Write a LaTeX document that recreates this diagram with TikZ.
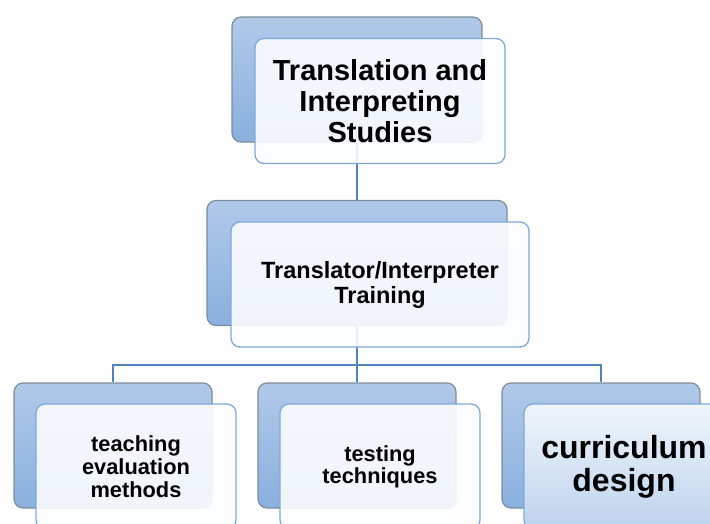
\documentclass[tikz,border=0pt]{standalone}
\usepackage{fontspec}
\setmainfont{Liberation Sans}
\definecolor{backline}{RGB}{125,140,155}
\definecolor{backtop}{RGB}{176,201,232}
\definecolor{backbottom}{RGB}{137,176,223}
\definecolor{frontline}{RGB}{125,170,220}
\definecolor{frontfill}{RGB}{252,253,255}
\definecolor{linkblue}{RGB}{80,130,190}
\definecolor{glosstop}{RGB}{240,245,251}
\definecolor{glossbottom}{RGB}{188,211,237}
\begin{document}
\begin{tikzpicture}[x=1pt,y=-1pt,
    back/.style={draw=backline, line width=1.2pt, rounded corners=9pt,
      top color=backtop, bottom color=backbottom, minimum height=125pt},
    front/.style={draw=frontline, line width=1.3pt, rounded corners=9pt,
      fill=frontfill, fill opacity=0.9, text opacity=1, minimum height=125pt,
      align=center, inner sep=0pt},
    glossy/.style={front, top color=glosstop, bottom color=glossbottom, fill opacity=1},
    link/.style={draw=linkblue, line width=2pt}]
  \useasboundingbox (0,0) rectangle (710,523);
  \clip (0,0) rectangle (710,523);
  \draw
    (357,79.5) node[back, minimum width=250pt] (tisback) {}
    (357,263) node[back, minimum width=300pt] (ittback) {}
    (113,445.5) node[back, minimum width=198pt] (teachback) {}
    (357,445.5) node[back, minimum width=198pt] (testback) {}
    (601,445.5) node[back, minimum width=198pt] (currback) {};
  \coordinate (bus) at (357,365);
  \begin{scope}[link]
    \draw (tisback) to (ittback);
    \draw (ittback.south) -- (bus) -| (teachback.north);
    \draw (bus) -| (testback.north);
    \draw (bus) -| (currback.north);
  \end{scope}
  \draw
    (380,101) node[front, minimum width=250pt,
      font=\bfseries\fontsize{29}{31}\selectfont] (tis) {Translation and\\Interpreting\\Studies}
    (380,284.5) node[front, minimum width=298pt,
      font=\bfseries\fontsize{23.5}{25}\selectfont] (itt) {Translator/Interpreter\\Training}
    (136,466.5) node[front, minimum width=200pt,
      font=\bfseries\fontsize{21.8}{23}\selectfont] (teach) {teaching\\evaluation\\methods}
    (380,466.5) node[front, minimum width=200pt,
      font=\bfseries\fontsize{21.8}{22}\selectfont] (test) {testing\\techniques}
    (624,466.5) node[glossy, minimum width=200pt,
      font=\bfseries\fontsize{32}{33}\selectfont] (curr) {curriculum\\design};
\end{tikzpicture}
\end{document}
